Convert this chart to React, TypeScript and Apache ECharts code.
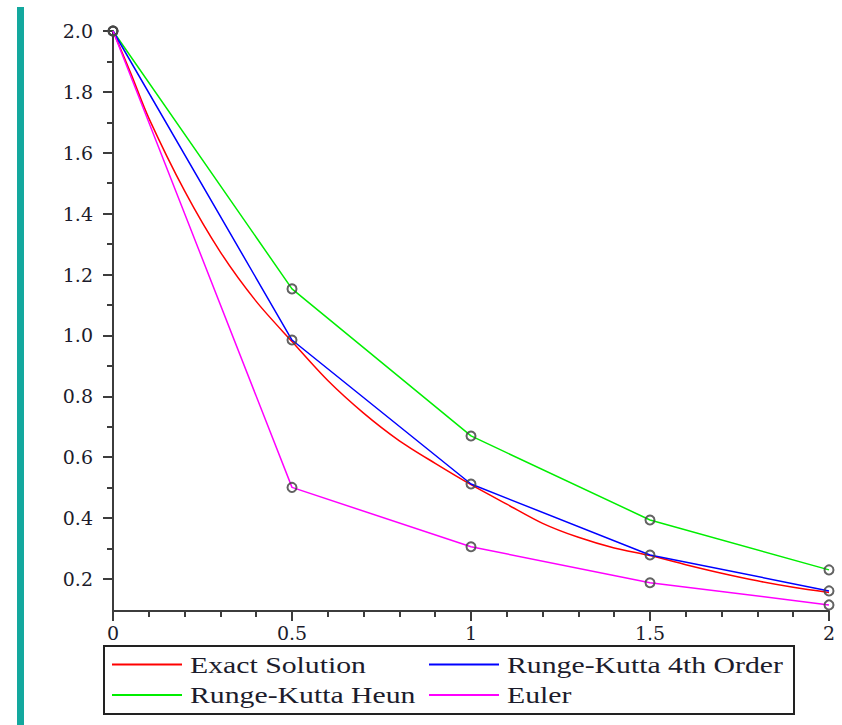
import React, { useEffect, useRef } from "react";
import * as echarts from "echarts";

const nodeX = [0, 0.5, 1, 1.5, 2];
const rk4Values = [2.0, 0.985, 0.512, 0.279, 0.161];
const heunValues = [2.0, 1.153, 0.670, 0.394, 0.230];
const eulerValues = [2.0, 0.501, 0.306, 0.188, 0.115];

const exactX = [0, 0.05, 0.1, 0.2, 0.3, 0.4, 0.5, 0.6, 0.7, 0.8, 0.9, 1.0, 1.1, 1.2, 1.3, 1.4, 1.5, 1.6, 1.7, 1.8, 1.9, 2.0];
const exactValues = [2.0, 1.86, 1.714, 1.475, 1.274, 1.112, 0.98, 0.852, 0.745, 0.654, 0.58, 0.51, 0.446, 0.383, 0.337, 0.302, 0.277, 0.247, 0.219, 0.194, 0.173, 0.156];

const yLabelTicks = [0.2, 0.4, 0.6, 0.8, 1.0, 1.2, 1.4, 1.6, 1.8, 2.0];
const yMinorTicks = [0.3, 0.5, 0.7, 0.9, 1.1, 1.3, 1.5, 1.7, 1.9];

const seriesNames = ["Exact Solution", "Runge-Kutta 4th Order", "Runge-Kutta Heun", "Euler"];
const seriesColors = ["#ff0000", "#0000ff", "#00ee00", "#ff00ff"];

const AXIS_COLOR = "#3c3c3c";
const TEXT_COLOR = "#1c1c2c";
const TICK_FONT = "DejaVu Serif";
const LEGEND_FONT = "Liberation Serif";

export default function App() {
  const ref = useRef<HTMLDivElement>(null);
  useEffect(() => {
    if (!ref.current) return;
    const chart = echarts.init(ref.current, null, { renderer: "svg" });
    const pairs = (xs: number[], ys: number[]) => xs.map((x, i) => [x, ys[i]]);
    const markerStyle = {
      color: "rgba(0,0,0,0)",
      borderColor: "rgba(70,70,70,0.85)",
      borderWidth: 2,
    };
    const lineSeries = (name: string, color: string, data: number[][], markers: boolean) => ({
      name,
      type: "line",
      data,
      color,
      showSymbol: markers,
      symbol: "circle",
      symbolSize: 9,
      itemStyle: markers ? markerStyle : { color },
      lineStyle: { color, width: 1.5 },
      z: 3,
    });

    // legend layout: [series index, column x, row y]
    const legendSlots = [
      [0, 112, 664.5],
      [1, 429, 664.5],
      [2, 112, 695],
      [3, 429, 695],
    ];
    const legendGraphics: any[] = [];
    legendSlots.forEach(([i, x, y]) => {
      legendGraphics.push({
        type: "line",
        shape: { x1: x, y1: y, x2: x + 70, y2: y },
        style: { stroke: seriesColors[i], lineWidth: 2 },
      });
      legendGraphics.push({
        type: "text",
        x: x + 78,
        y: y + 0.5,
        scaleX: 1.24,
        style: {
          text: seriesNames[i],
          x: 0,
          y: 0,
          fontFamily: LEGEND_FONT,
          fontSize: 24,
          fill: TEXT_COLOR,
          textAlign: "left",
          textVerticalAlign: "middle",
        },
      });
    });

    chart.setOption({
      animation: false,
      backgroundColor: "#ffffff",
      grid: { left: 113, right: 13, top: 31, bottom: 114, containLabel: false },
      xAxis: {
        type: "value",
        min: 0,
        max: 2,
        interval: 0.5,
        axisLine: { show: true, onZero: false, lineStyle: { color: AXIS_COLOR, width: 2 } },
        axisTick: { show: true, length: 10, lineStyle: { color: AXIS_COLOR, width: 2 } },
        minorTick: { show: true, splitNumber: 5, length: 6, lineStyle: { color: AXIS_COLOR, width: 2 } },
        splitLine: { show: false },
        minorSplitLine: { show: false },
        axisLabel: {
          margin: 12,
          fontFamily: TICK_FONT,
          fontSize: 19,
          color: TEXT_COLOR,
          formatter: (v: number) => String(v),
        },
      },
      yAxis: [
        {
          type: "value",
          min: 0.095,
          max: 2.0,
          position: "left",
          axisLine: { show: true, onZero: false, lineStyle: { color: AXIS_COLOR, width: 2 } },
          axisTick: { show: true, length: 10, customValues: yLabelTicks, lineStyle: { color: AXIS_COLOR, width: 2 } },
          splitLine: { show: false },
          axisLabel: {
            customValues: yLabelTicks,
            margin: 20,
            fontFamily: TICK_FONT,
            fontSize: 19,
            color: TEXT_COLOR,
            formatter: (v: number) => v.toFixed(1),
          },
        },
        {
          type: "value",
          min: 0.095,
          max: 2.0,
          position: "left",
          axisLine: { show: false },
          axisTick: { show: true, length: 6, customValues: yMinorTicks, lineStyle: { color: AXIS_COLOR, width: 2 } },
          splitLine: { show: false },
          axisLabel: { show: false },
        },
      ],
      graphic: [
        { type: "rect", left: 17, top: 7, shape: { width: 7, height: 718 }, style: { fill: "#13a89e" } },
        {
          type: "rect",
          shape: { x: 104, y: 646, width: 690, height: 68 },
          style: { fill: "none", stroke: "#222222", lineWidth: 2 },
        },
        ...legendGraphics,
      ],
      series: [
        { ...lineSeries(seriesNames[0], seriesColors[0], pairs(exactX, exactValues), false), smooth: 0.3 },
        lineSeries(seriesNames[2], seriesColors[2], pairs(nodeX, heunValues), true),
        lineSeries(seriesNames[1], seriesColors[1], pairs(nodeX, rk4Values), true),
        lineSeries(seriesNames[3], seriesColors[3], pairs(nodeX, eulerValues), true),
      ],
    });
    return () => chart.dispose();
  }, []);
  return (
    <div
      ref={ref}
      style={{ position: "absolute", left: 0, top: 0, width: 842, height: 725 }}
    />
  );
}
